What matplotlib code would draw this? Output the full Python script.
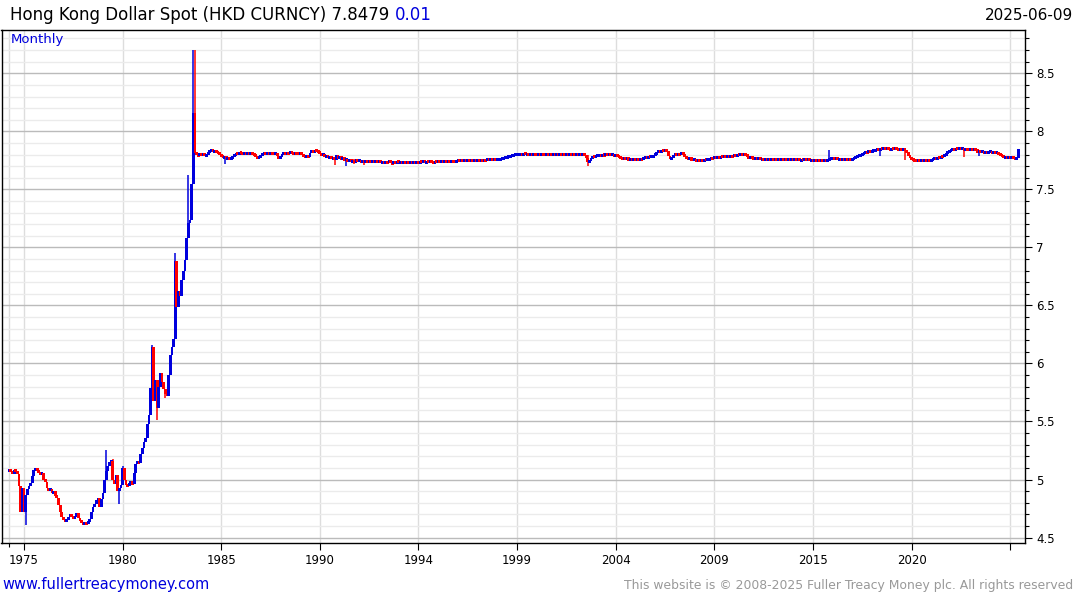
import numpy as np
import matplotlib
matplotlib.use('agg')
import matplotlib.pyplot as plt
from matplotlib.ticker import FixedLocator, MultipleLocator, FuncFormatter

BLUE = '#0000dd'
RED = '#ff0000'

# monthly closes Apr 1974 .. Sep 1983 (free float)
first_open = 5.07
float_closes = [
    5.08, 5.07, 5.05, 5.08, 5.07, 5.05, 4.94, 4.72, 4.93, 4.72, 4.87, 4.92,
    4.94, 4.97, 5.03, 5.08, 5.10, 5.08, 5.06, 5.05, 5.06, 5.00, 4.98, 4.93,
    4.90, 4.92, 4.88, 4.90, 4.86, 4.84, 4.78, 4.72, 4.68, 4.65, 4.64, 4.65,
    4.68, 4.70, 4.68, 4.66, 4.68, 4.71, 4.67, 4.64, 4.63, 4.62, 4.63, 4.62,
    4.64, 4.66, 4.72, 4.76, 4.79, 4.82, 4.84, 4.76, 4.83, 4.88, 5.00, 5.07,
    5.12, 5.15, 5.16, 5.00, 4.96, 5.04, 4.90, 4.93, 4.95, 5.10, 5.00, 4.95,
    4.94, 4.97, 4.98, 4.96, 5.06, 5.13, 5.16, 5.14, 5.22, 5.27, 5.32, 5.36,
    5.48, 5.56, 5.79, 6.14, 5.68, 5.86, 5.62, 5.80, 5.92, 5.84, 5.78, 5.74,
    5.72, 5.90, 6.07, 6.14, 6.21, 6.88, 6.49, 6.62, 6.58, 6.72, 6.80, 6.89,
    7.08, 7.21, 7.24, 7.55, 8.16, 7.81,
]

# monthly closes Oct 1983 .. Jun 2025, thousandths
peg_closes = [
    7800, 7790, 7810,
    7795, 7805, 7790, 7800, 7815, 7830, 7840, 7825, 7832, 7818, 7810, 7800,  # 1984
    7790, 7775, 7782, 7765, 7770, 7758, 7768, 7780, 7795, 7810, 7805, 7818,  # 1985
    7810, 7800, 7815, 7808, 7812, 7805, 7815, 7808, 7800, 7785, 7770, 7778,  # 1986
    7790, 7805, 7812, 7806, 7814, 7808, 7815, 7810, 7805, 7812, 7790, 7765,  # 1987
    7785, 7805, 7812, 7808, 7815, 7810, 7818, 7812, 7808, 7815, 7810, 7805,  # 1988
    7812, 7800, 7785, 7778, 7790, 7782, 7815, 7830, 7822, 7835, 7828, 7820,  # 1989
    7812, 7795, 7805, 7778, 7795, 7768, 7785, 7760, 7778, 7755, 7795, 7765,  # 1990
    7790, 7755, 7778, 7742, 7765, 7738, 7760, 7732, 7755, 7730, 7758, 7735,  # 1991
    7755, 7728, 7750, 7730, 7755, 7732, 7748, 7725, 7750, 7730, 7752, 7728,  # 1992
    7748, 7724, 7745, 7722, 7742, 7728, 7750, 7725, 7720, 7740, 7724, 7745,  # 1993
    7728, 7735, 7725, 7732, 7728, 7738, 7730, 7735, 7728, 7734, 7730, 7736,  # 1994
    7732, 7738, 7734, 7740, 7733, 7738, 7735, 7742, 7737, 7733, 7738, 7735,  # 1995
    7740, 7736, 7742, 7738, 7744, 7740, 7745, 7741, 7746, 7742, 7738, 7744,  # 1996
    7748, 7744, 7749, 7745, 7750, 7746, 7750, 7747, 7751, 7748, 7752, 7749,  # 1997
    7752, 7749, 7753, 7750, 7754, 7751, 7755, 7752, 7756, 7753, 7755, 7752,  # 1998
    7755, 7758, 7762, 7768, 7772, 7776, 7780, 7784, 7788, 7791, 7795, 7798,  # 1999
    7800, 7802, 7805, 7803, 7806, 7804, 7805, 7802, 7805, 7803, 7806, 7802,  # 2000
    7800, 7803, 7801, 7804, 7802, 7800, 7803, 7801, 7804, 7800, 7802, 7799,  # 2001
    7801, 7799, 7802, 7800, 7803, 7800, 7802, 7799, 7801, 7798, 7800, 7798,  # 2002
    7800, 7797, 7800, 7797, 7799, 7796, 7770, 7735, 7745, 7770, 7782, 7778,  # 2003
    7785, 7790, 7795, 7792, 7798, 7794, 7800, 7796, 7799, 7795, 7798, 7793,  # 2004
    7796, 7790, 7775, 7770, 7765, 7772, 7760, 7765, 7758, 7762, 7756, 7760,  # 2005
    7755, 7762, 7757, 7763, 7758, 7770, 7780, 7775, 7782, 7776, 7784, 7790,  # 2006
    7805, 7820, 7830, 7825, 7835, 7828, 7838, 7830, 7790, 7762, 7775, 7795,  # 2007
    7805, 7798, 7808, 7800, 7810, 7802, 7785, 7770, 7760, 7768, 7755, 7752,  # 2008
    7755, 7750, 7754, 7749, 7753, 7750, 7755, 7751, 7756, 7765, 7772, 7768,  # 2009
    7775, 7770, 7778, 7772, 7782, 7776, 7785, 7778, 7788, 7780, 7790, 7784,  # 2010
    7795, 7788, 7800, 7793, 7805, 7798, 7808, 7800, 7785, 7772, 7778, 7768,  # 2011
    7762, 7770, 7760, 7766, 7758, 7764, 7757, 7763, 7756, 7762, 7755, 7761,  # 2012
    7756, 7762, 7755, 7760, 7754, 7759, 7753, 7758, 7752, 7757, 7751, 7756,  # 2013
    7752, 7757, 7751, 7756, 7750, 7755, 7751, 7756, 7752, 7756, 7750, 7754,  # 2014
    7750, 7754, 7749, 7753, 7748, 7752, 7749, 7753, 7748, 7752, 7760, 7765,  # 2015
    7772, 7762, 7768, 7758, 7764, 7756, 7762, 7755, 7761, 7754, 7760, 7756,  # 2016
    7762, 7770, 7778, 7785, 7792, 7798, 7805, 7815, 7822, 7818, 7826, 7820,  # 2017
    7828, 7835, 7842, 7848, 7845, 7850, 7846, 7851, 7847, 7852, 7848, 7845,  # 2018
    7850, 7846, 7851, 7847, 7843, 7849, 7845, 7850, 7840, 7820, 7790, 7770,  # 2019
    7755, 7752, 7750, 7748, 7752, 7749, 7751, 7748, 7752, 7749, 7753, 7750,  # 2020
    7755, 7760, 7768, 7765, 7775, 7772, 7785, 7780, 7795, 7810, 7825, 7835,  # 2021
    7842, 7848, 7844, 7850, 7846, 7851, 7847, 7850, 7845, 7849, 7843, 7838,  # 2022
    7845, 7838, 7843, 7836, 7825, 7832, 7820, 7828, 7815, 7824, 7812, 7820,  # 2023
    7825, 7815, 7822, 7810, 7818, 7808, 7795, 7785, 7775, 7782, 7770, 7778,  # 2024
    7770, 7775, 7768, 7762, 7770, 7848,                                      # 2025
]

# bars whose high / low reach past the body
wick_bar = [10, 59, 63, 67, 69, 87, 90, 95, 101, 109, 112, 113,
            131, 198, 205, 210, 216, 352, 499, 530, 545, 581, 590]
wick_high = [4.87, 5.25, 5.18, 4.93, 5.12, 6.16, 5.68, 5.78, 6.95, 7.62, 8.70, 8.70,
             7.78, 7.78, 7.77, 7.76, 7.75, 7.80, 7.84, 7.85, 7.85, 7.85, 7.83]
wick_low = [4.61, 5.07, 5.00, 4.79, 4.95, 5.79, 5.51, 5.70, 6.21, 7.21, 7.55, 7.81,
            7.72, 7.71, 7.70, 7.72, 7.71, 7.70, 7.75, 7.79, 7.75, 7.78, 7.79]

year_ticks = [9, 69, 129, 189, 249, 309, 369, 429, 489, 549, 609]
year_labels = ['1975', '1980', '1985', '1990', '1994', '1999', '2004', '2009',
               '2015', '2020', '']

closes = np.array(float_closes + [v / 1000 for v in peg_closes])
opens = np.r_[first_open, closes[:-1]]
highs = np.maximum(opens, closes)
lows = np.minimum(opens, closes)
highs[wick_bar] = np.maximum(highs[wick_bar], wick_high)
lows[wick_bar] = np.minimum(lows[wick_bar], wick_low)
x = np.arange(len(closes))
colors = np.where(closes >= opens, BLUE, RED)

fig = plt.figure(figsize=(10.75, 6), dpi=100)
ax = fig.add_axes([1.5 / 1075, 57 / 600, 1023.5 / 1075, 513 / 600])

ax.vlines(x, lows, highs, colors=colors, lw=1.1, zorder=3)
body = np.abs(closes - opens)
h = np.maximum(body, 0.026)
bottom = np.minimum(opens, closes) - (h - body) / 2
ax.bar(x, h, bottom=bottom, width=1.7, color=colors, linewidth=0, zorder=3)

ax.set_xlim(-4.7, 618)
ax.set_ylim(4.453, 8.873)

ax.yaxis.tick_right()
ax.yaxis.set_major_locator(MultipleLocator(0.5))
ax.yaxis.set_minor_locator(MultipleLocator(0.1))
ax.yaxis.set_major_formatter(FuncFormatter(lambda v, p: f'{v:g}'))
ax.xaxis.set_major_locator(FixedLocator(year_ticks))
ax.xaxis.set_minor_locator(FixedLocator([0]))
ax.set_xticklabels(year_labels)

ax.grid(which='major', axis='y', color='#bbbbbb', lw=1.0, zorder=0)
ax.grid(which='minor', axis='y', color='#ebebeb', lw=1.0, zorder=0)
ax.grid(which='both', axis='x', color='#dddddd', lw=1.0, zorder=0)
ax.set_axisbelow(True)

ax.tick_params(axis='both', which='major', direction='out', length=5, width=0.8,
               labelsize=8.5, pad=3, colors='black')
ax.tick_params(axis='both', which='minor', direction='out', length=3, width=0.8)
for s in ax.spines.values():
    s.set_linewidth(1.0)
    s.set_color('black')

ax.text(9 / 1023.5, 1 - 10 / 513, 'Monthly', transform=ax.transAxes, color=BLUE,
        fontsize=9.5, va='center', ha='left')

t = fig.text(10 / 1075, 1 - 15 / 600, 'Hong Kong Dollar Spot (HKD CURNCY) 7.8479',
             fontsize=12, va='center', ha='left')
ax.annotate('0.01', xy=(1, 0), xycoords=t, xytext=(4, 0), textcoords='offset points',
            color=BLUE, fontsize=12, va='bottom', ha='left', annotation_clip=False)
fig.text(1 - 2 / 1075, 1 - 15 / 600, '2025-06-09', fontsize=11, va='center', ha='right')

fig.text(2 / 1075, 15 / 600, 'www.fullertreacymoney.com', color=BLUE, fontsize=10.5,
         va='center', ha='left')
fig.text(1 - 2 / 1075, 15 / 600,
         'This website is \u00a9 2008-2025 Fuller Treacy Money plc. All rights reserved',
         color='#999999', fontsize=8.9, va='center', ha='right')

fig.savefig('out.png', dpi=100)
